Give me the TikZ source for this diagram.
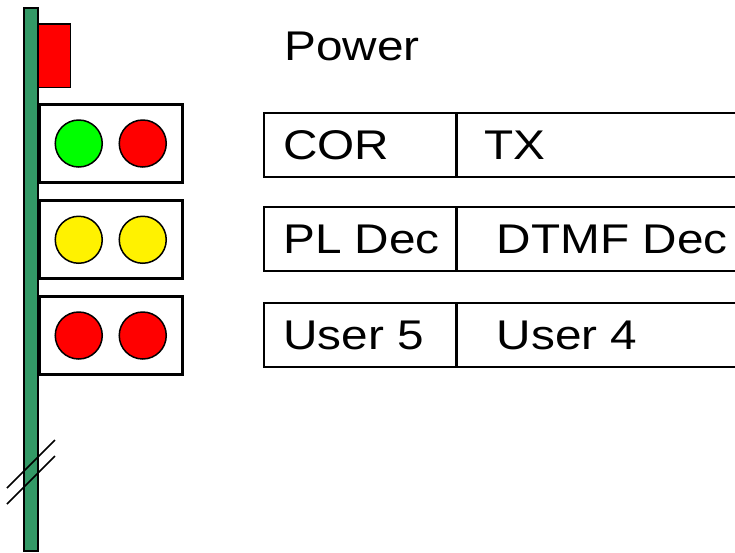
\documentclass[tikz,border=0pt]{standalone}
\usepackage{fontspec}
\setmainfont{Liberation Sans}[FakeStretch=1.15]
\usetikzlibrary{positioning}
\definecolor{polegreen}{RGB}{51,153,102}

\begin{document}
\begin{tikzpicture}[x=1pt, y=-1pt,
	lamp/.style={circle, draw, line width=1.5pt, minimum size=47pt, inner sep=0pt},
	panel/.style={rectangle, draw, line width=3.2pt, minimum width=143.5pt, minimum height=78pt, inner sep=0pt},
	cell/.style={rectangle, draw, line width=1.6pt, minimum height=64pt, inner sep=0pt, anchor=north west},
	lbl/.style={font=\fontsize{41.5}{44}\selectfont, anchor=base west, inner sep=0pt}]
\useasboundingbox (0,0) rectangle (735,552);
\clip (0,0) rectangle (735,552);
% pole and flag
\draw[fill=polegreen, line width=2.4pt] (24,8) rectangle (38,551);
\draw[fill=red, line width=1.5pt] (38,24) rectangle (70.5,87.5);
% lamp panels
\foreach \row/\yc/\ca/\cb in {1/143.5/green/red, 2/239.75/yellow/yellow, 3/335.5/red/red} {
	\node[panel] (panel\row) at (110.75,\yc) {};
	\node[lamp, fill=\ca] (lampa\row) at ([xshift=-32pt]panel\row.center) {};
	\node[lamp, fill=\cb] (lampb\row) at ([xshift=32pt]panel\row.center) {};
}
% break marks
\draw[line width=1.5pt] (7,488) -- (55,440);
\draw[line width=1.5pt] (7,504) -- (55,456);
% labels
\node[lbl] (power) at (284,60) {Power};
\foreach \row/\yt/\la/\lb/\sh in {1/112/COR/TX/28, 2/206/PL Dec/DTMF Dec/40, 3/302/User 5/User 4/40} {
	\node[cell, minimum width=192pt] (left\row) at (263,\yt) {};
	\node[cell, minimum width=400pt] (right\row) at (left\row.north east) {};
	\node[lbl] (la\row) at ([xshift=20pt, yshift=18pt]left\row.south west) {\la};
	\node[lbl] (lb\row) at ([xshift=\sh pt, yshift=18pt]right\row.south west) {\lb};
}
\end{tikzpicture}
\end{document}
